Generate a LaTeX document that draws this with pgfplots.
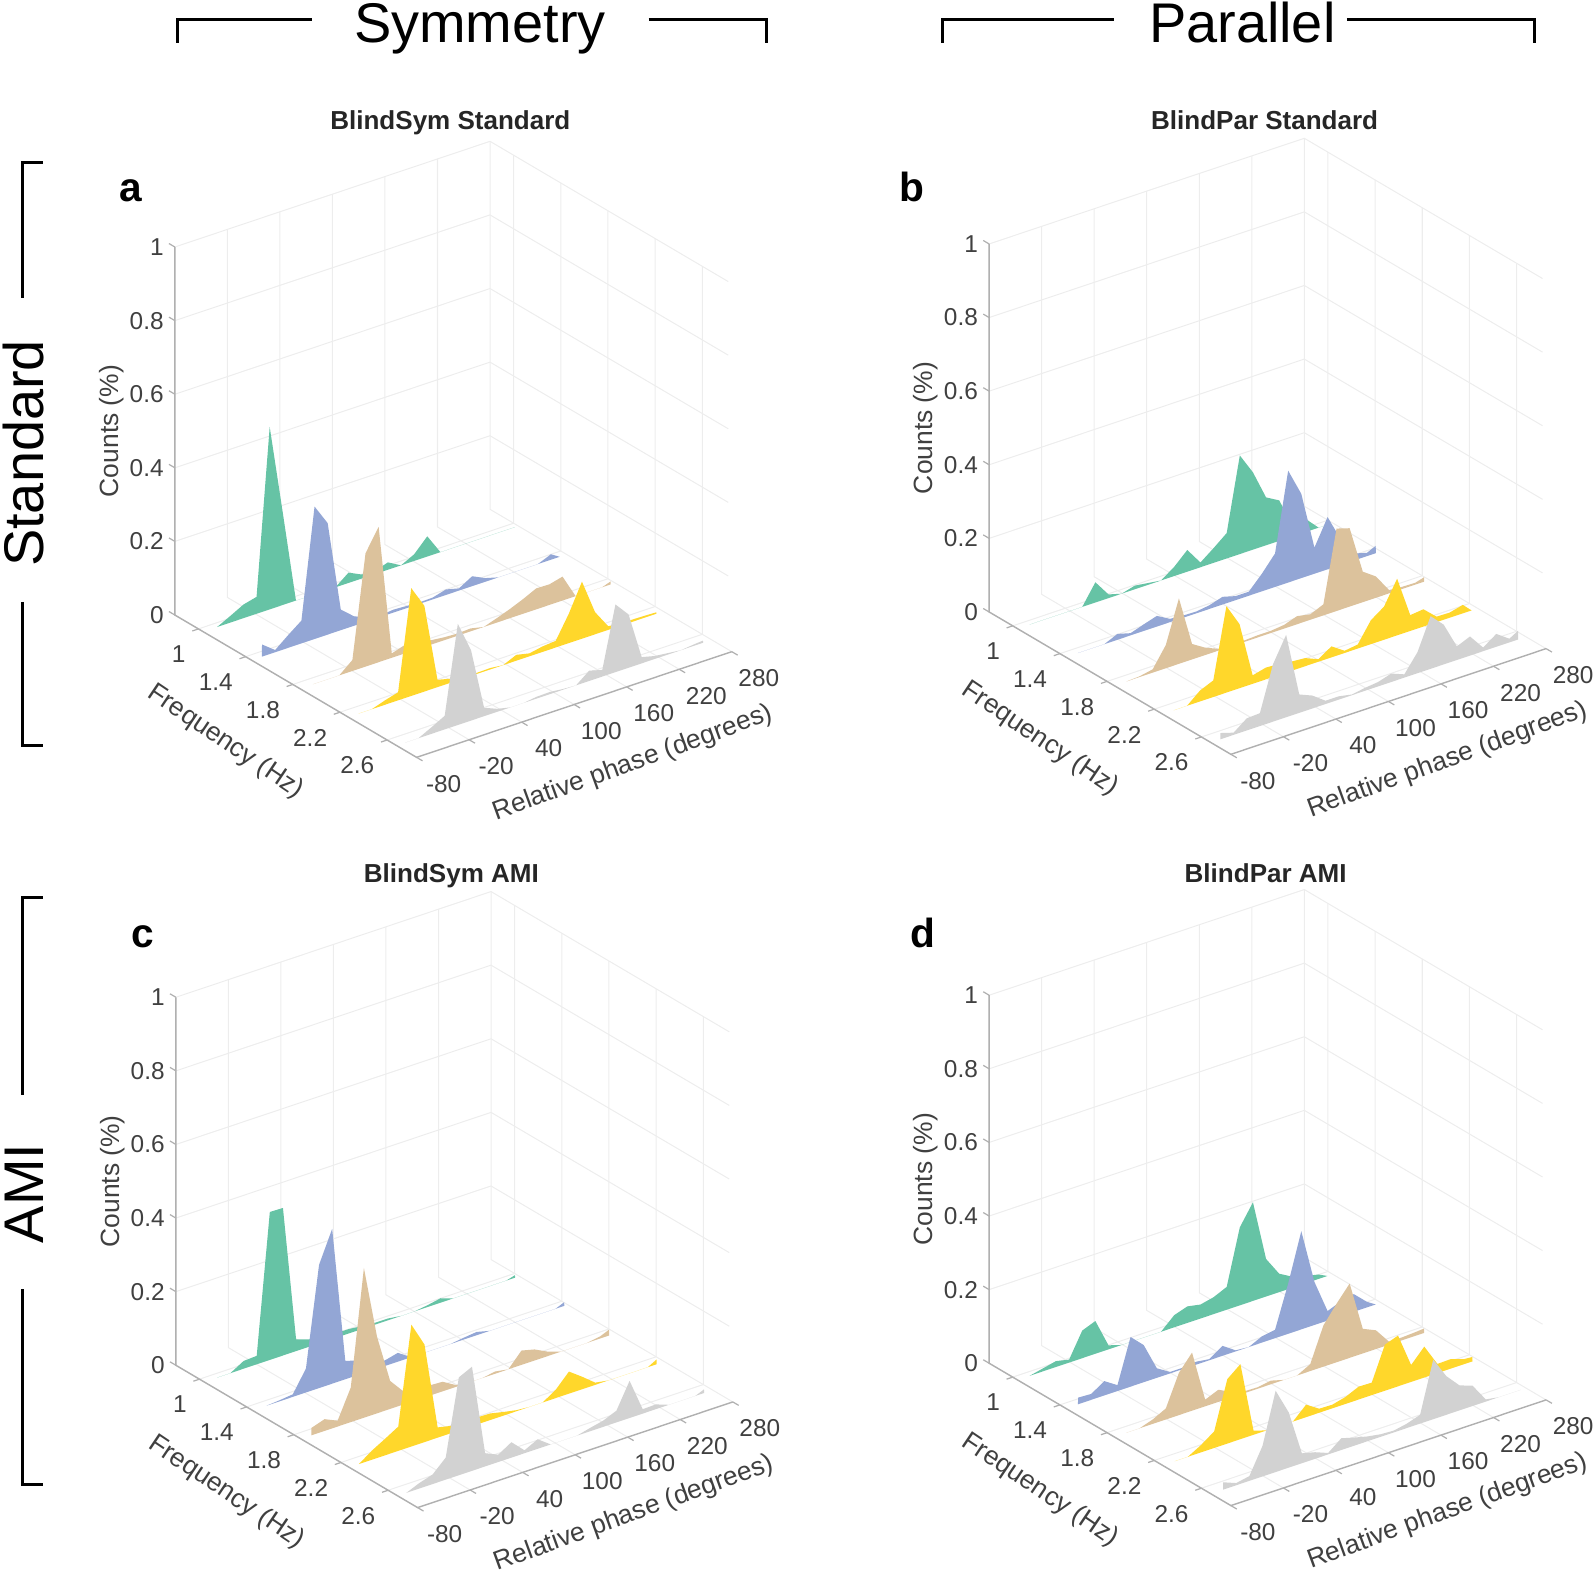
\documentclass[border=0pt]{standalone}
\usepackage{fontspec}
\setmainfont{Liberation Sans}
\usepackage{pgfplots}
\usepackage{pgfplotstable}
\pgfplotsset{compat=1.18}

\definecolor{rgreen}{HTML}{66C3A5}
\definecolor{rblue}{HTML}{93A6D5}
\definecolor{rtan}{HTML}{DCC29C}
\definecolor{ryellow}{HTML}{FFD72B}
\definecolor{rgrey}{HTML}{D2D2D2}
\definecolor{axisgrey}{HTML}{B0B0B0}
\definecolor{gridgrey}{HTML}{EDEDED}
\definecolor{txt}{HTML}{404040}

% columns: phase, then one count per frequency (1, 1.4, 1.8, 2.2, 2.6 Hz)
\pgfplotstableread{
x g b t y k
-60.1 0 0 0 0 0
-60 0 .033 0 0 0
-45 .018 .006 0 0 0
-30 .037 .035 0 .012 .018
-15 .046 .062 .03 .022 .037
0 .496 .36 .308 .293 .275
15 .25 .303 .368 .233 .192
30 0 .056 .012 .02 .023
45 0 .026 .023 .011 .008
60 0 .01 .02 .005 0
75 0 .004 .012 .003 0
90 .028 .008 .008 .004 .005
105 .011 .006 .006 0 .006
120 .008 .004 .008 .016 .002
135 .02 .005 0 .008 0
150 0 .015 .012 .015 .028
165 .018 .006 .025 .018 .018
180 .055 .027 .04 .08 .184
195 0 .01 .057 .155 .145
210 0 0 .056 .06 .017
225 0 0 .065 .01 .008
240 0 0 0 .006 .004
255 0 0 0 .006 0
270 0 .015 0 .005 .004
280 0 0 .008 .004 .006
280.1 0 0 0 0 0
}\tabA

\pgfplotstableread{
x g b t y k
-60.1 0 0 0 0 0
-60 0 0 0 0 .017
-45 0 0 .002 0 .006
-30 0 0 .009 .03 .033
-15 0 .016 .063 .045 .035
0 0 .006 .178 .235 .156
15 .055 .018 .042 .174 .224
30 .01 .029 .02 .023 .05
45 0 .009 .005 .032 .035
60 .01 .006 .004 .03 .009
75 .005 .005 .004 .025 .009
90 0 .01 .006 .022 .002
105 .025 .021 .006 .007 .008
120 .059 .011 .01 .03 .012
135 .013 .011 .022 .006 .023
150 .04 .048 .015 .011 .009
165 .069 .091 .03 .065 .057
180 .268 .304 .224 .09 .143
195 .21 .229 .213 .154 .108
210 .13 .071 .083 .043 .037
225 .11 .142 .058 .047 .052
240 .03 .07 .009 .015 .01
255 .036 .019 .006 .014 .035
270 .0 .009 .005 .023 .01
280 0 .02 .012 0 .024
280.1 0 0 0 0 0
}\tabB

\pgfplotstableread{
x g b t y k
-60.1 0 0 0 0 0
-60 0 0 .02 0 0
-45 0 .003 .032 .025 .015
-30 .021 .007 .016 .045 .026
-15 .023 .065 .094 .066 .06
0 .402 .335 .407 .331 .266
15 .401 .421 .208 .265 .283
30 .032 .05 .076 .028 .036
45 .02 .039 .036 .02 .02
60 .018 .02 .03 .02 .042
75 .012 .015 .028 .019 .008
90 .012 .024 .026 .018 .026
105 .008 0 .005 .01 0
120 .005 0 0 .003 0
135 .005 0 0 0 0
150 0 0 .006 0 .009
165 0 .005 0 .023 .017
180 .005 .009 .039 .06 .032
195 .012 0 .03 .034 .101
210 0 0 .012 .006 .012
225 0 0 0 0 .013
240 0 0 0 0 0
255 0 0 0 0 0
270 0 0 .006 0 0
280 .007 .01 .016 .013 .01
280.1 0 0 0 0 0
}\tabC

\pgfplotstableread{
x g b t y k
-60.1 0 0 0 0 0
-60 0 .018 0 0 .02
-45 .008 .016 0 0 .006
-30 .016 .039 .012 .02 .013
-15 .008 .016 .03 .045 .083
0 .075 .135 .115 .175 .221
15 .089 .101 .158 .204 .15
30 .011 .026 .018 .011 .027
45 0 .004 .033 0 .018
60 0 .004 .015 0 .004
75 0 .008 .005 0 .032
90 0 .003 .004 .034 .022
105 .033 .027 .01 .011 .013
120 .045 .003 0 .01 .007
135 .038 0 0 .019 .005
150 .046 .017 .019 .035 .012
165 .062 .023 .112 .034 .024
180 .212 .136 .159 .125 .162
195 .268 .267 .202 .138 .105
210 .102 .117 .067 .046 .068
225 .05 .026 .051 .084 .055
240 .03 .04 .008 .025 .006
255 .02 .048 .008 .026 0
270 .012 .015 .01 .014 0
280 0 0 .012 .012 0
280.1 0 0 0 0 0
}\tabD

\tikzset{
  gline/.style={draw=gridgrey,line width=0.5pt},
  tline/.style={draw=axisgrey,line width=0.6pt},
}

\pgfplotsset{
  ridge/.style={
    x={(0.4306pt,0.1444pt)},
    y={(58pt,-34.15pt)},
    z={(0pt,181pt)},
    xmin=-80,xmax=280,ymin=0.8,ymax=2.85,zmin=0,zmax=1,
    clip=false,
    axis line style={draw=none},
    tick style={draw=none},
    major tick length=4pt,
    xtick={-80,-20,40,100,160,220,280},
    xticklabels={-80,-20,40,100,160,220,280},
    ytick={1,1.4,1.8,2.2,2.6},
    yticklabels={1,1.4,1.8,2.2,2.6},
    ztick={0,0.2,0.4,0.6,0.8,1},
    zticklabels={0,0.2,0.4,0.6,0.8,1},
    tick label style={font=\fontsize{12}{14}\selectfont,text=txt},
    x tick label style={anchor=center,xshift=13.3pt,yshift=-13pt},
    y tick label style={anchor=east,xshift=-2.8pt,yshift=-12.5pt},
    z tick label style={anchor=east,xshift=-2pt},
    every axis x label/.style={at={(axis cs:100,2.85,0)},anchor=center,xshift=29pt,yshift=-29pt,rotate=20,font=\fontsize{13}{15}\selectfont,text=txt},
    every axis y label/.style={at={(axis cs:-80,1.825,0)},anchor=center,xshift=-34.5pt,yshift=-27.5pt,rotate=-34,font=\fontsize{13}{15}\selectfont,text=txt},
    every axis z label/.style={at={(axis cs:-80,0.8,0.5)},anchor=center,xshift=-31pt,rotate=90,font=\fontsize{13}{15}\selectfont,text=txt},
    xlabel={Relative phase (degrees)},
    ylabel={Frequency (Hz)},
    zlabel={Counts (\%)},
  },
}

% one panel: x, y of the axis box corner (pt), data table, phase offset of each ribbon
\newcommand{\ridgepanel}[8]{%
\begin{axis}[ridge,anchor=south west,at={(#1pt,#2pt)}]
  % walls and floor at the back, which pgfplots would put at the front for this view
  \pgfplotsinvokeforeach{-80,-20,40,100,160,220,280}{
    \draw[gline] (axis cs:##1,2.85,0) -- (axis cs:##1,0.8,0) -- (axis cs:##1,0.8,1);
  }
  \pgfplotsinvokeforeach{1,1.4,1.8,2.2,2.6}{
    \draw[gline] (axis cs:-80,##1,0) -- (axis cs:280,##1,0) -- (axis cs:280,##1,1);
  }
  \pgfplotsinvokeforeach{0.2,0.4,0.6,0.8,1}{
    \draw[gline] (axis cs:-80,0.8,##1) -- (axis cs:280,0.8,##1) -- (axis cs:280,2.82,##1);
  }
  \addplot3[fill=rgreen,draw=none] table[x expr=\thisrow{x}+#4,y expr=1.04,z=g] {#3};
  \addplot3[fill=rblue,draw=none] table[x expr=\thisrow{x}+#5,y expr=1.45,z=b] {#3};
  \addplot3[fill=rtan,draw=none] table[x expr=\thisrow{x}+#6,y expr=1.86,z=t] {#3};
  \addplot3[fill=ryellow,draw=none] table[x expr=\thisrow{x}+#7,y expr=2.27,z=y] {#3};
  \addplot3[fill=rgrey,draw=none] table[x expr=\thisrow{x}+#8,y expr=2.68,z=k] {#3};
  \draw[axisgrey,line width=0.7pt] (axis cs:-80,0.8,1) -- (axis cs:-80,0.8,0) -- (axis cs:-80,2.85,0) -- (axis cs:280,2.85,0);
  \pgfplotsinvokeforeach{-80,-20,40,100,160,220,280}{
    \draw[tline] (axis cs:##1,2.85,0) -- (axis cs:##1,2.9,0);
  }
  \pgfplotsinvokeforeach{1,1.4,1.8,2.2,2.6}{
    \draw[tline] (axis cs:-80,##1,0) -- (axis cs:-87,##1,0);
  }
  \pgfplotsinvokeforeach{0,0.2,0.4,0.6,0.8,1}{
    \draw[tline] (axis cs:-80,0.8,##1) -- (axis cs:-80,0.75,##1);
  }
\end{axis}}

\begin{document}
\begin{tikzpicture}
  \path[use as bounding box] (0pt,0pt) rectangle (784pt,-773pt);
  \ridgepanel{86}{-372.5}{\tabA}{-4}{-8}{-5}{-8}{-10}
  \ridgepanel{486.5}{-371}{\tabB}{-6}{-6}{-6}{-7}{-9}
  \ridgepanel{86.5}{-741.5}{\tabC}{-5}{-4}{-8}{-9}{-10}
  \ridgepanel{486.5}{-740.5}{\tabD}{-6}{-6}{-6}{-6}{-6}

  \begin{scope}[x=0.5pt,y=-0.5pt]
    \draw[line width=1.5pt] (175,42) -- (175,19) -- (307,19);
    \draw[line width=1.5pt] (638,19) -- (754,19) -- (754,42);
    \draw[line width=1.5pt] (927,42) -- (927,19) -- (1096,19);
    \draw[line width=1.5pt] (1325,19) -- (1509,19) -- (1509,42);
    \draw[line width=1.5pt] (42,160) -- (22,160) -- (22,293);
    \draw[line width=1.5pt] (22,592) -- (22,733) -- (42,733);
    \draw[line width=1.5pt] (42,883) -- (22,883) -- (22,1077);
    \draw[line width=1.5pt] (22,1268) -- (22,1460) -- (42,1460);
    \node[anchor=base,font=\fontsize{27.5}{30}\selectfont] at (472,42) {Symmetry};
    \node[anchor=base,font=\fontsize{27.5}{30}\selectfont] at (1222,42) {Parallel};
    \node[anchor=base,rotate=90,font=\fontsize{27.5}{30}\selectfont] at (43,446) {Standard};
    \node[anchor=base,rotate=90,font=\fontsize{27.5}{30}\selectfont] at (43,1174) {AMI};
    \node[anchor=base,font=\fontsize{12.8}{14}\selectfont\bfseries,text=black!85] at (443,127) {BlindSym Standard};
    \node[anchor=base,font=\fontsize{12.8}{14}\selectfont\bfseries,text=black!85] at (1244,127) {BlindPar Standard};
    \node[anchor=base,font=\fontsize{12.8}{14}\selectfont\bfseries,text=black!85] at (444,868) {BlindSym AMI};
    \node[anchor=base,font=\fontsize{12.8}{14}\selectfont\bfseries,text=black!85] at (1245,868) {BlindPar AMI};
    \node[anchor=base,font=\fontsize{20}{22}\selectfont\bfseries] at (129,198) {a};
    \node[anchor=base,font=\fontsize{20}{22}\selectfont\bfseries] at (897,198) {b};
    \node[anchor=base,font=\fontsize{20}{22}\selectfont\bfseries] at (140,932) {c};
    \node[anchor=base,font=\fontsize{20}{22}\selectfont\bfseries] at (908,932) {d};
  \end{scope}
\end{tikzpicture}
\end{document}
